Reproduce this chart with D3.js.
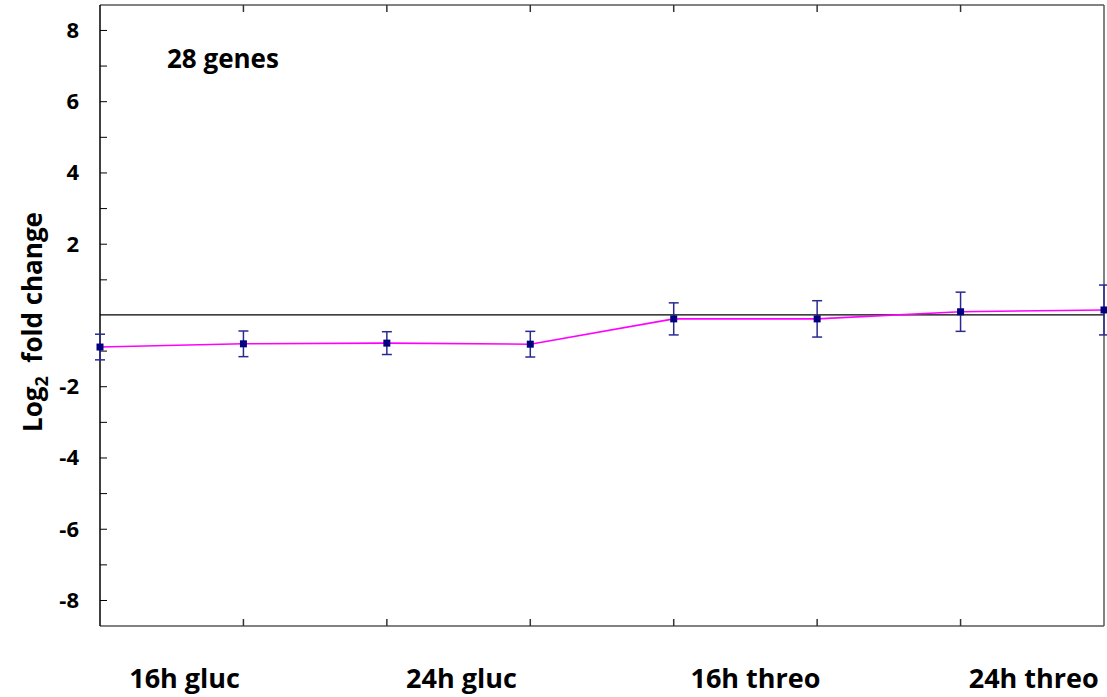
<!DOCTYPE html>
<html>
<head>
<meta charset="utf-8">
<script src="https://cdn.jsdelivr.net/npm/d3@7"></script>
<style>
  body { margin: 0; background: #fff; }
  svg { display: block; }
  text { font-family: "Open Sans", "Noto Sans", sans-serif; font-weight: bold; fill: #000; }
</style>
</head>
<body>
<svg id="chart" width="1107" height="697"></svg>
<script>
// ---- data ----
const points = [0, 1, 2, 3, 4, 5, 6, 7];
const means  = [-0.90, -0.81, -0.79, -0.82, -0.11, -0.11, 0.09, 0.14];
const errors = [0.36, 0.36, 0.32, 0.36, 0.45, 0.51, 0.55, 0.70];
const groupLabels = ["16h gluc", "24h gluc", "16h threo", "24h threo"];
const groupPos = [0.59, 2.52, 4.57, 6.51];
const yTicks = [-8, -6, -4, -2, 2, 4, 6, 8];
const yMinorTicks = [-8, -7, -6, -5, -4, -3, -2, -1, 1, 2, 3, 4, 5, 6, 7, 8];
const annotation = "28 genes";

// ---- layout ----
const svg = d3.select("#chart");
const pL = 100, pR = 1104, pT = 5, pB = 626;

const x = d3.scaleLinear().domain([0, 7]).range([pL, pR]);
const y = d3.scaleLinear().domain([-8.73, 8.7]).range([pB, pT]);

// frame: top and right borders, bottom axis (gray)
svg.append("line").attr("x1", pL).attr("x2", pR).attr("y1", pT).attr("y2", pT)
  .attr("stroke", "#595959").attr("stroke-width", 1.5);
svg.append("line").attr("x1", pR).attr("x2", pR).attr("y1", pT).attr("y2", pB)
  .attr("stroke", "#595959").attr("stroke-width", 1.5);
svg.append("line").attr("x1", pL).attr("x2", pR).attr("y1", pB).attr("y2", pB)
  .attr("stroke", "#595959").attr("stroke-width", 1.5);

// x ticks (inward) on bottom and top
const xTickVals = points.slice(1, 7);
svg.append("g").selectAll("line").data(xTickVals).join("line")
  .attr("x1", d => x(d)).attr("x2", d => x(d))
  .attr("y1", pB).attr("y2", pB - 7)
  .attr("stroke", "#333").attr("stroke-width", 1.5);
svg.append("g").selectAll("line").data(xTickVals).join("line")
  .attr("x1", d => x(d)).attr("x2", d => x(d))
  .attr("y1", pT).attr("y2", pT + 7)
  .attr("stroke", "#333").attr("stroke-width", 1.5);

// y axis (ticks inward)
const yAxis = d3.axisRight(y).tickValues(yMinorTicks).tickSize(7).tickFormat("");
const gy = svg.append("g").attr("transform", `translate(${pL},0)`).call(yAxis);
gy.select(".domain").remove();
gy.selectAll(".tick line").attr("stroke", "#000").attr("stroke-width", 1);
svg.append("line").attr("x1", pL).attr("x2", pL).attr("y1", pT).attr("y2", pB)
  .attr("stroke", "#000").attr("stroke-width", 1.5);

// y labels
svg.append("g").selectAll("text").data(yTicks).join("text")
  .attr("x", 79).attr("y", d => y(d))
  .attr("dy", "0.36em")
  .attr("text-anchor", "end")
  .style("font-size", "22px")
  .text(d => d);

// zero line
svg.append("line").attr("x1", pL).attr("x2", pR).attr("y1", y(0)).attr("y2", y(0))
  .attr("stroke", "#000").attr("stroke-width", 1.3);

// series line
const line = d3.line().x((d, i) => x(points[i])).y(d => y(d));
svg.append("path").datum(means).attr("d", line)
  .attr("fill", "none").attr("stroke", "#ff00ff").attr("stroke-width", 1.6);

// error bars
const eb = svg.append("g").attr("stroke", "#2a2a8f").attr("stroke-width", 1.5);
points.forEach((p, i) => {
  const cx = x(p), y1 = y(means[i] + errors[i]), y2 = y(means[i] - errors[i]);
  eb.append("line").attr("x1", cx).attr("x2", cx).attr("y1", y1).attr("y2", y2);
  eb.append("line").attr("x1", cx - 5).attr("x2", cx + 5).attr("y1", y1).attr("y2", y1);
  eb.append("line").attr("x1", cx - 5).attr("x2", cx + 5).attr("y1", y2).attr("y2", y2);
});

// markers
svg.append("g").selectAll("rect").data(means).join("rect")
  .attr("x", (d, i) => x(points[i]) - 3.5)
  .attr("y", d => y(d) - 3.5)
  .attr("width", 7).attr("height", 7)
  .attr("fill", "#000080");

// x group labels
svg.append("g").selectAll("text").data(groupLabels).join("text")
  .attr("x", (d, i) => x(groupPos[i]))
  .attr("y", 688)
  .attr("text-anchor", "middle")
  .style("font-size", "27px")
  .text(d => d);

// annotation
svg.append("text").attr("x", 167).attr("y", 68)
  .style("font-size", "26px").text(annotation);

// y axis title with subscript
const yt = svg.append("text")
  .attr("transform", `translate(42, 322) rotate(-90)`)
  .attr("text-anchor", "middle")
  .style("font-size", "26px");
yt.append("tspan").text("Log");
yt.append("tspan").attr("dy", 6).style("font-size", "18px").text("2");
yt.append("tspan").attr("dy", -6).text("\u00a0\u00a0fold change");
</script>
</body>
</html>
